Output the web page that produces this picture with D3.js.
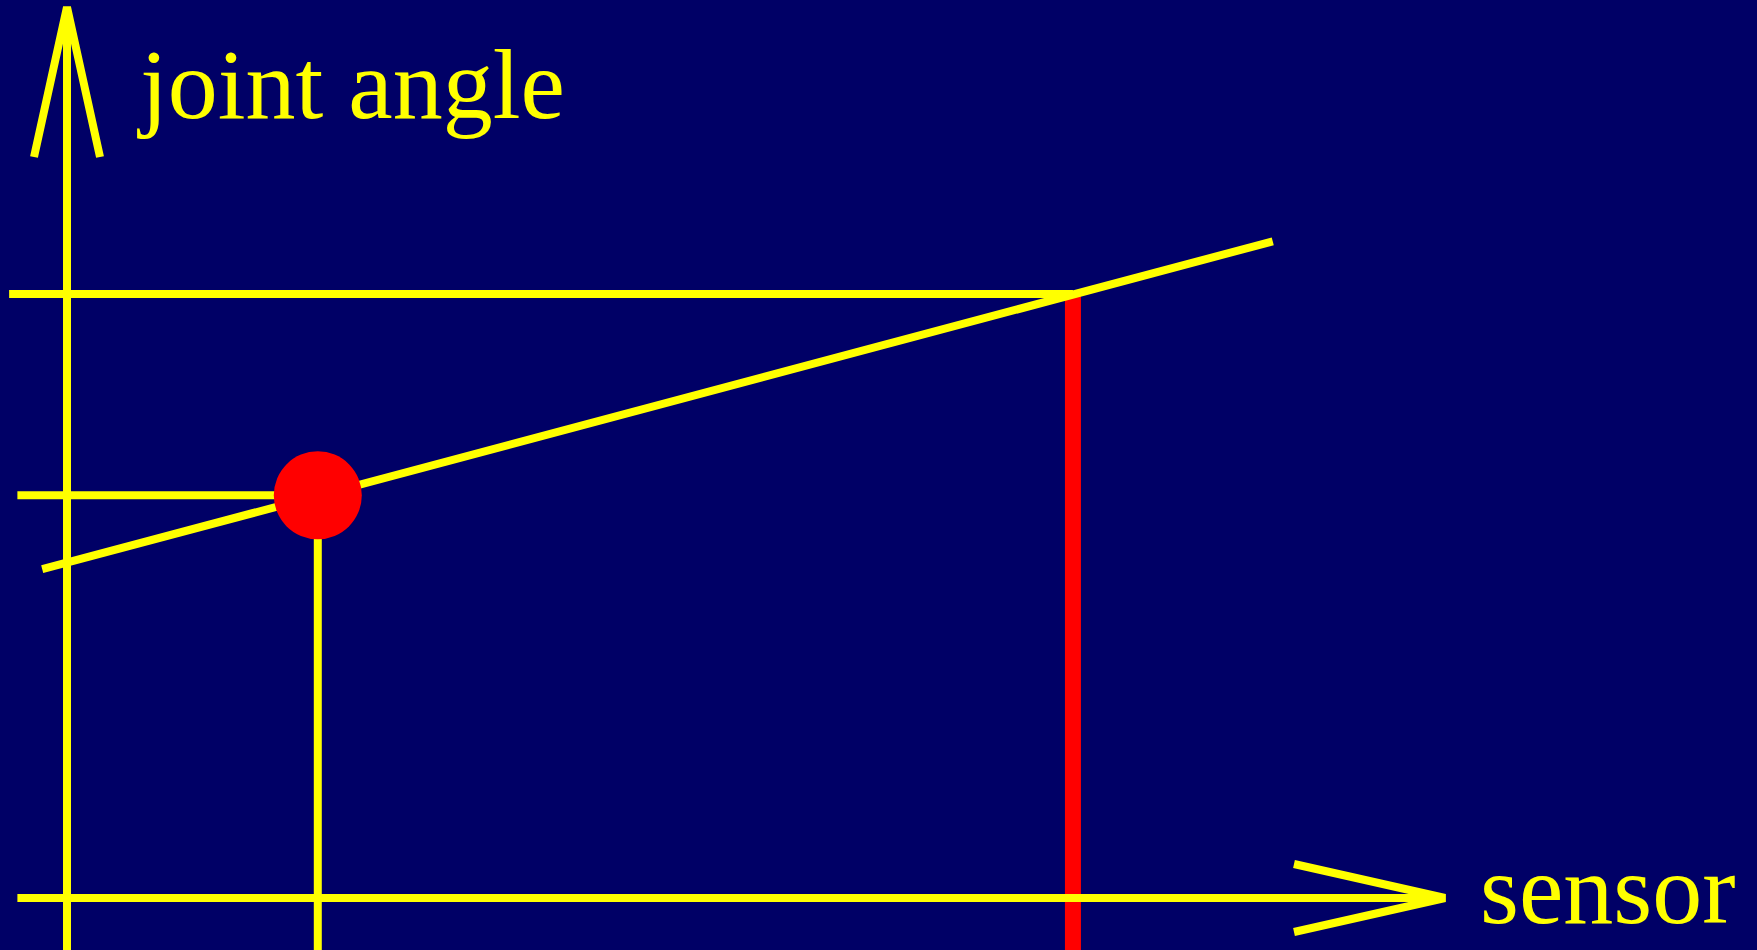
<!DOCTYPE html>
<html>
<head>
<meta charset="utf-8">
<script src="https://cdn.jsdelivr.net/npm/d3@7/dist/d3.min.js"></script>
<style>
  html, body { margin: 0; padding: 0; background: #000066; overflow: hidden; }
  text { font-family: "Liberation Serif", "Times New Roman", serif; }
</style>
</head>
<body>
<div id="chart"></div>
<script>
// calibration line (sensor -> joint angle), in data units
var lineSensor = [-1.8, 87.5];
var lineAngle = [36.9, 73.7];
// measured point and the reading read back off the line
var pointSensor = [18.2];
var pointAngle = [45.2];
var readSensor = [73.0];
var readAngle = [67.8];
// where the guide lines start, in data units
var guideStart = [-4.2, -3.6];
var axisLabels = ["joint angle", "sensor"];

var width = 1757, height = 950;

var svg = d3.select("#chart")
  .append("svg")
  .attr("width", width)
  .attr("height", height);

svg.append("rect")
  .attr("width", width)
  .attr("height", height)
  .attr("fill", "#000066");

// scales: sensor left->right, joint angle bottom->top
var x = d3.scaleLinear().domain([0, 100]).range([67, 1445]);
var y = d3.scaleLinear().domain([0, 100]).range([898, 7]);
var yBottom = y.invert(height);

var yellow = "#ffff00", red = "#ff0000";

function seg(x1, y1, x2, y2, color, w) {
  svg.append("line")
    .attr("x1", x(x1)).attr("y1", y(y1))
    .attr("x2", x(x2)).attr("y2", y(y2))
    .attr("stroke", color)
    .attr("stroke-width", w);
}

// upper guide line to the read-back value
seg(guideStart[0], readAngle[0], readSensor[0], readAngle[0], yellow, 8);

// red reading bar
seg(readSensor[0], readAngle[0], readSensor[0], yBottom, red, 16);

// lower guide line and drop line from the measured point
seg(guideStart[1], pointAngle[0], pointSensor[0], pointAngle[0], yellow, 8);
seg(pointSensor[0], pointAngle[0], pointSensor[0], yBottom, yellow, 8);

// calibration line
seg(lineSensor[0], lineAngle[0], lineSensor[1], lineAngle[1], yellow, 8);

// axes
seg(0, yBottom, 0, 100, yellow, 8);
seg(guideStart[1], 0, 100, 0, yellow, 8);

// arrow heads
var arrow = d3.line();
svg.append("path")
  .attr("d", arrow([[x(0) - 33, 157], [x(0), y(100)], [x(0) + 33, 157]]))
  .attr("fill", "none")
  .attr("stroke", yellow)
  .attr("stroke-width", 8);
svg.append("path")
  .attr("d", arrow([[1294, y(0) - 34], [x(100), y(0)], [1294, y(0) + 34]]))
  .attr("fill", "none")
  .attr("stroke", yellow)
  .attr("stroke-width", 8);

// measured point
svg.append("circle")
  .attr("cx", x(pointSensor[0]))
  .attr("cy", y(pointAngle[0]))
  .attr("r", 44)
  .attr("fill", red);

// axis labels
svg.append("text")
  .attr("x", 140)
  .attr("y", 118)
  .attr("fill", yellow)
  .style("font-size", "100px")
  .text(axisLabels[0]);

svg.append("text")
  .attr("x", 1480)
  .attr("y", 923)
  .attr("fill", yellow)
  .style("font-size", "100px")
  .text(axisLabels[1]);
</script>
</body>
</html>
